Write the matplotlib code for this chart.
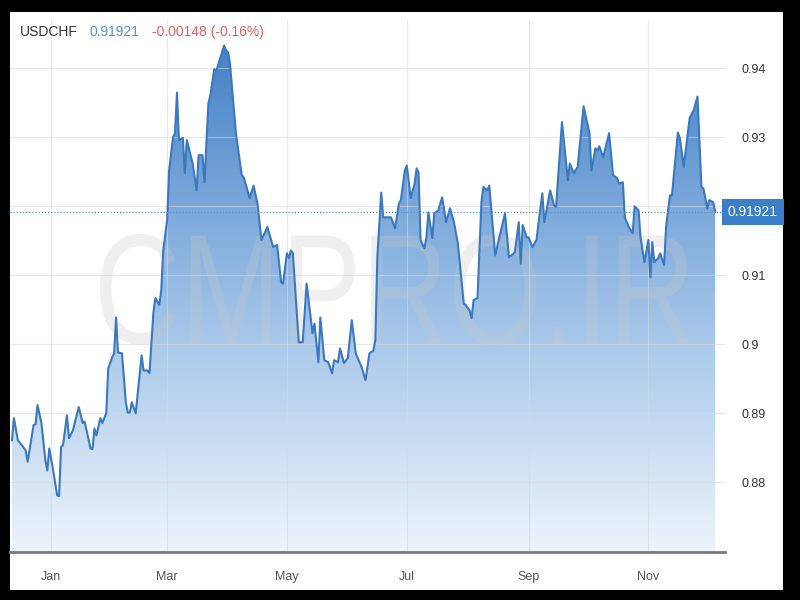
import numpy as np
import pandas as pd
import matplotlib
matplotlib.use("Agg")
import matplotlib.pyplot as plt
import matplotlib.dates as mdates
from matplotlib.patches import Rectangle, PathPatch
from matplotlib.textpath import TextPath
from matplotlib.font_manager import FontProperties
from matplotlib.colors import LinearSegmentedColormap
import matplotlib.transforms as mtransforms

plt.rcParams['font.family'] = ['Liberation Sans', 'DejaVu Sans']

# USDCHF closes
dates = [
    '2020-12-12', '2020-12-13', '2020-12-15', '2020-12-17', '2020-12-19', '2020-12-20',
    '2020-12-23', '2020-12-24', '2020-12-25', '2020-12-27', '2020-12-29', '2020-12-30',
    '2020-12-31', '2021-01-02', '2021-01-04', '2021-01-05', '2021-01-06', '2021-01-07',
    '2021-01-09', '2021-01-10', '2021-01-12', '2021-01-15', '2021-01-17', '2021-01-18',
    '2021-01-21', '2021-01-22', '2021-01-23', '2021-01-24', '2021-01-26', '2021-01-27',
    '2021-01-29', '2021-01-30', '2021-02-01', '2021-02-02', '2021-02-03', '2021-02-04',
    '2021-02-06', '2021-02-08', '2021-02-09', '2021-02-10', '2021-02-11', '2021-02-13',
    '2021-02-16', '2021-02-17', '2021-02-19', '2021-02-20', '2021-02-22', '2021-02-23',
    '2021-02-25', '2021-02-26', '2021-02-27', '2021-03-01', '2021-03-02', '2021-03-04',
    '2021-03-05', '2021-03-06', '2021-03-07', '2021-03-09', '2021-03-10', '2021-03-11',
    '2021-03-14', '2021-03-16', '2021-03-17', '2021-03-19', '2021-03-20', '2021-03-22',
    '2021-03-23', '2021-03-25', '2021-03-26', '2021-03-30', '2021-03-31', '2021-04-01',
    '2021-04-02', '2021-04-05', '2021-04-08', '2021-04-09', '2021-04-12', '2021-04-14',
    '2021-04-16', '2021-04-18', '2021-04-21', '2021-04-24', '2021-04-26', '2021-04-28',
    '2021-04-29', '2021-05-01', '2021-05-02', '2021-05-03', '2021-05-04', '2021-05-07',
    '2021-05-09', '2021-05-11', '2021-05-14', '2021-05-15', '2021-05-17', '2021-05-18',
    '2021-05-20', '2021-05-22', '2021-05-24', '2021-05-25', '2021-05-27', '2021-05-28',
    '2021-05-30', '2021-06-01', '2021-06-03', '2021-06-05', '2021-06-08', '2021-06-10',
    '2021-06-12', '2021-06-14', '2021-06-15', '2021-06-16', '2021-06-18', '2021-06-19',
    '2021-06-23', '2021-06-25', '2021-06-27', '2021-06-28', '2021-06-30', '2021-07-01',
    '2021-07-03', '2021-07-05', '2021-07-06', '2021-07-07', '2021-07-08', '2021-07-10',
    '2021-07-11', '2021-07-12', '2021-07-14', '2021-07-15', '2021-07-17', '2021-07-19',
    '2021-07-21', '2021-07-23', '2021-07-25', '2021-07-27', '2021-07-30', '2021-07-31',
    '2021-08-02', '2021-08-03', '2021-08-04', '2021-08-06', '2021-08-08', '2021-08-09',
    '2021-08-11', '2021-08-12', '2021-08-15', '2021-08-20', '2021-08-22', '2021-08-25',
    '2021-08-27', '2021-08-28', '2021-08-29', '2021-08-31', '2021-09-01', '2021-09-03',
    '2021-09-05', '2021-09-08', '2021-09-09', '2021-09-12', '2021-09-14', '2021-09-15',
    '2021-09-18', '2021-09-21', '2021-09-22', '2021-09-24', '2021-09-26', '2021-09-29',
    '2021-10-02', '2021-10-03', '2021-10-05', '2021-10-06', '2021-10-07', '2021-10-09',
    '2021-10-12', '2021-10-14', '2021-10-16', '2021-10-17', '2021-10-19', '2021-10-20',
    '2021-10-22', '2021-10-24', '2021-10-25', '2021-10-27', '2021-10-28', '2021-10-30',
    '2021-11-01', '2021-11-02', '2021-11-03', '2021-11-04', '2021-11-06', '2021-11-07',
    '2021-11-09', '2021-11-10', '2021-11-12', '2021-11-13', '2021-11-16', '2021-11-17',
    '2021-11-19', '2021-11-22', '2021-11-24', '2021-11-26', '2021-11-28', '2021-11-29',
    '2021-12-01', '2021-12-02', '2021-12-04', '2021-12-05',
]
prices = [
    0.8861, 0.8893, 0.8861, 0.8854, 0.8846, 0.8830,
    0.8883, 0.8884, 0.8912, 0.8886, 0.8832, 0.8817,
    0.8849, 0.8817, 0.8781, 0.8780, 0.8851, 0.8854,
    0.8897, 0.8864, 0.8875, 0.8909, 0.8886, 0.8888,
    0.8849, 0.8848, 0.8878, 0.8868, 0.8893, 0.8886,
    0.8900, 0.8965, 0.8981, 0.8987, 0.9039, 0.8988,
    0.8987, 0.8915, 0.8901, 0.8901, 0.8916, 0.8900,
    0.8984, 0.8962, 0.8962, 0.8958, 0.9046, 0.9067,
    0.9057, 0.9078, 0.9136, 0.9180, 0.9252, 0.9300,
    0.9306, 0.9365, 0.9296, 0.9299, 0.9248, 0.9296,
    0.9262, 0.9223, 0.9274, 0.9274, 0.9235, 0.9349,
    0.9361, 0.9399, 0.9396, 0.9433, 0.9426, 0.9423,
    0.9407, 0.9306, 0.9245, 0.9242, 0.9212, 0.9230,
    0.9204, 0.9151, 0.9170, 0.9141, 0.9144, 0.9090,
    0.9088, 0.9132, 0.9125, 0.9136, 0.9132, 0.9003,
    0.9003, 0.9088, 0.9016, 0.9030, 0.8974, 0.9039,
    0.8977, 0.8974, 0.8958, 0.8977, 0.8974, 0.8994,
    0.8973, 0.8980, 0.9035, 0.8987, 0.8967, 0.8948,
    0.8987, 0.8991, 0.9006, 0.9126, 0.9220, 0.9184,
    0.9184, 0.9168, 0.9204, 0.9209, 0.9252, 0.9259,
    0.9212, 0.9233, 0.9255, 0.9249, 0.9151, 0.9139,
    0.9155, 0.9191, 0.9154, 0.9190, 0.9194, 0.9213,
    0.9177, 0.9197, 0.9177, 0.9146, 0.9059, 0.9057,
    0.9049, 0.9038, 0.9064, 0.9067, 0.9206, 0.9228,
    0.9223, 0.9230, 0.9129, 0.9190, 0.9126, 0.9133,
    0.9177, 0.9117, 0.9173, 0.9155, 0.9155, 0.9141,
    0.9151, 0.9219, 0.9177, 0.9223, 0.9201, 0.9199,
    0.9322, 0.9238, 0.9262, 0.9248, 0.9257, 0.9345,
    0.9306, 0.9252, 0.9284, 0.9281, 0.9287, 0.9271,
    0.9306, 0.9245, 0.9241, 0.9233, 0.9235, 0.9184,
    0.9170, 0.9161, 0.9200, 0.9194, 0.9155, 0.9119,
    0.9151, 0.9097, 0.9148, 0.9119, 0.9125, 0.9132,
    0.9115, 0.9170, 0.9216, 0.9216, 0.9307, 0.9299,
    0.9257, 0.9328, 0.9339, 0.9359, 0.9228, 0.9226,
    0.9197, 0.9209, 0.9206, 0.91921,
]
symbol = 'USDCHF'
last_price = 0.91921
change_text = '-0.00148 (-0.16%)'
y_ticks = [0.88, 0.89, 0.90, 0.91, 0.92, 0.93, 0.94]
y_tick_labels = ['0.88', '0.89', '0.9', '0.91', '', '0.93', '0.94']  # 0.92 sits under the price box
month_ticks = [1, 3, 5, 7, 9, 11]

x = mdates.date2num(pd.to_datetime(dates))
y = np.array(prices)

fig = plt.figure(figsize=(8, 6), dpi=100, facecolor='black')
# white card inside the black frame
fig.patches.append(Rectangle((10 / 800, 10 / 600), 773 / 800, 578 / 600,
                             transform=fig.transFigure, facecolor='white',
                             edgecolor='none', zorder=-5))

ax = fig.add_axes([10 / 800, 48 / 600, 715 / 800, 532 / 600])
ax.set_facecolor('none')

x0 = mdates.date2num(pd.Timestamp('2020-12-11'))
x1 = mdates.date2num(pd.Timestamp('2021-12-10'))
ylo, yhi = 0.8699, 0.9470
ax.set_xlim(x0, x1)
ax.set_ylim(ylo, yhi)

# gradient fill under the line
cmap = LinearSegmentedColormap.from_list(
    'fx', [(0.0, '#edf4fb'), (0.4, '#a8c8ea'), (1.0, '#3c7bc3')])
grad = np.linspace(0, 1, 256).reshape(-1, 1)
im = ax.imshow(grad, extent=[x0, x1, ylo, yhi], origin='lower', aspect='auto',
               cmap=cmap, zorder=1)
poly = ax.fill_between(x, y, ylo, facecolor='none', edgecolor='none')
im.set_clip_path(poly.get_paths()[0], transform=ax.transData)

ax.plot(x, y, color='#3a78c0', lw=1.5, zorder=4)

# current price line + box
ax.axhline(last_price, color='#5b8fd0', lw=0.9, ls=(0, (1, 1.5)), zorder=4)
ax.text(1.004, last_price, f'{last_price:.5f}', transform=ax.get_yaxis_transform(),
        ha='left', va='center', color='white', fontsize=10, zorder=6, clip_on=False,
        bbox=dict(boxstyle='square,pad=0.42', facecolor='#3a7fc8', edgecolor='none'))

# grid
ax.set_yticks(y_ticks)
ax.set_yticklabels(y_tick_labels)
ax.xaxis.set_major_locator(mdates.MonthLocator(bymonth=month_ticks))
ax.xaxis.set_major_formatter(mdates.DateFormatter('%b'))
ax.grid(True, color='#d9d9d9', lw=0.8, alpha=0.6)
for gl in ax.get_xgridlines() + ax.get_ygridlines():
    gl.set_zorder(2)

ax.yaxis.tick_right()
ax.tick_params(axis='y', length=0, pad=12, labelsize=9, labelcolor='#333333')
ax.tick_params(axis='x', length=0, pad=14, labelsize=9, labelcolor='#555555')
for s in ['top', 'left', 'right']:
    ax.spines[s].set_visible(False)
ax.spines['bottom'].set_color('#7a7a7a')
ax.spines['bottom'].set_linewidth(2)
ax.spines['bottom'].set_zorder(5)

# watermark
tp = TextPath((0, 0), 'CMPRO.IR', size=1, prop=FontProperties(family='Liberation Sans'))
ext = tp.get_extents()
bx0, bx1 = 100 / 800, 690 / 800
by0, by1 = (600 - 345) / 600, (600 - 234) / 600
tr = mtransforms.Affine2D().translate(-ext.x0, -ext.y0).scale(
    (bx1 - bx0) / ext.width, (by1 - by0) / ext.height).translate(bx0, by0)
wm = PathPatch(tp, transform=tr + fig.transFigure, facecolor='#c8c8c8',
               edgecolor='none', alpha=0.28, zorder=3, clip_on=False)
ax.add_patch(wm)

# header
fig.text(20 / 800, 1 - 32 / 600, symbol, color='#333333', fontsize=10, va='center')
fig.text(90 / 800, 1 - 32 / 600, f'{last_price:.5f}', color='#5b8fd0', fontsize=10, va='center')
fig.text(152 / 800, 1 - 32 / 600, change_text, color='#e06060', fontsize=10, va='center')

fig.savefig('out.png', dpi=100, facecolor=fig.get_facecolor())
